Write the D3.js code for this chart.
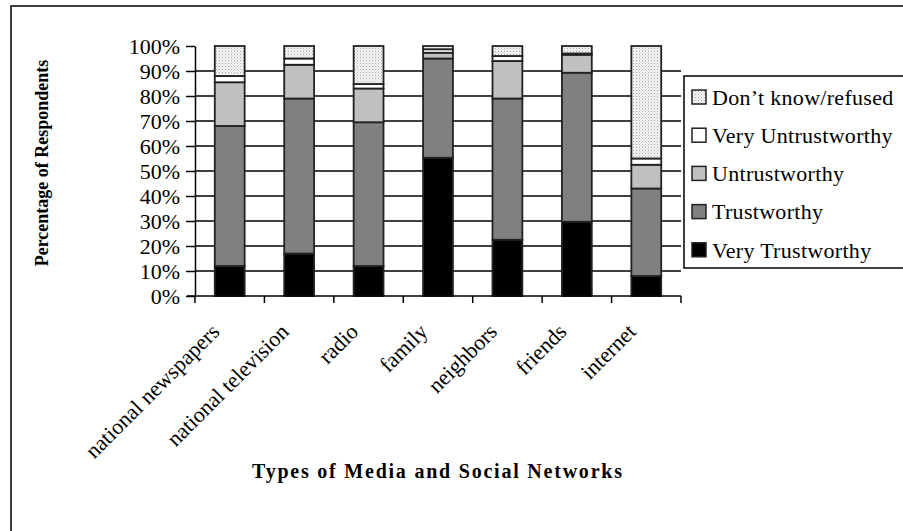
<!DOCTYPE html>
<html>
<head>
<meta charset="utf-8">
<script src="https://cdn.jsdelivr.net/npm/d3@7"></script>
<style>
  body { margin: 0; background: #fff; }
  svg text { font-family: "Liberation Serif", "Times New Roman", serif; fill: #000; }
  .tick-label { font-size: 22px; }
  .legend-label { font-size: 22px; letter-spacing: 0.3px; }
  .axis-title { font-size: 18px; font-weight: bold; }
</style>
</head>
<body>
<div id="chart"></div>
<script>
var categories = ["national newspapers", "national television", "radio", "family", "neighbors", "friends", "internet"];
var seriesNames = ["Very Trustworthy", "Trustworthy", "Untrustworthy", "Very Untrustworthy", "Don\u2019t know/refused"];
var veryTrustworthy   = [12,   17,   12,   55.3, 22.5, 29.7, 8];
var trustworthy       = [56,   62,   57.5, 39.7, 56.5, 59.6, 35];
var untrustworthy     = [17.5, 13.5, 13.5, 2.3,  15,   7.2,  9.5];
var veryUntrustworthy = [2.5,  2.5,  1.8,  1.4,  2,    0.5,  2.5];
var dontKnow          = [12,   5,    15.2, 1.3,  4,    3,    45];
var yTicks = [0, 10, 20, 30, 40, 50, 60, 70, 80, 90, 100];

var width = 903, height = 531;
var fills = ["#000000", "#808080", "#c0c0c0", "#ffffff", "url(#dots)"];

var rows = categories.map(function(c, i) {
  return {
    cat: c,
    "Very Trustworthy": veryTrustworthy[i],
    "Trustworthy": trustworthy[i],
    "Untrustworthy": untrustworthy[i],
    "Very Untrustworthy": veryUntrustworthy[i],
    "Don\u2019t know/refused": dontKnow[i]
  };
});
var stacked = d3.stack().keys(seriesNames)(rows);

var svg = d3.select("#chart").append("svg")
    .attr("width", width)
    .attr("height", height);

// dotted fill for the "don't know" segment
var pat = svg.append("defs").append("pattern")
    .attr("id", "dots")
    .attr("patternUnits", "userSpaceOnUse")
    .attr("width", 3).attr("height", 3);
pat.append("rect").attr("width", 3).attr("height", 3).attr("fill", "#f4f4f4");
pat.append("rect").attr("x", 0).attr("y", 0).attr("width", 1).attr("height", 1).attr("fill", "#a8a8a8");
pat.append("rect").attr("x", 1.5).attr("y", 1.5).attr("width", 1).attr("height", 1).attr("fill", "#c8c8c8");

// outer frame (runs off the right and bottom edge)
svg.append("rect")
    .attr("x", 11).attr("y", 6)
    .attr("width", 1000).attr("height", 600)
    .attr("fill", "none")
    .attr("stroke", "#000")
    .attr("stroke-width", 1.5);

var x = d3.scaleBand()
    .domain(categories)
    .range([195, 681])
    .paddingInner(0.57)
    .paddingOuter(0.285);

var y = d3.scaleLinear()
    .domain([0, 100])
    .range([296, 46]);

// gridlines
svg.append("g")
  .selectAll("line")
  .data(yTicks.filter(function(d) { return d > 0 && d < 100; }))
  .join("line")
    .attr("x1", 195).attr("x2", 681)
    .attr("y1", function(d) { return y(d); })
    .attr("y2", function(d) { return y(d); })
    .attr("stroke", "#000")
    .attr("stroke-width", 1.5);

// bars
svg.append("g")
  .selectAll("g")
  .data(stacked)
  .join("g")
    .attr("fill", function(d, i) { return fills[i]; })
  .selectAll("rect")
  .data(function(d) { return d; })
  .join("rect")
    .attr("x", function(d) { return x(d.data.cat); })
    .attr("y", function(d) { return y(d[1]); })
    .attr("width", x.bandwidth())
    .attr("height", function(d) { return y(d[0]) - y(d[1]); })
    .attr("stroke", "#222")
    .attr("stroke-width", 1.8);

// y axis
var yAxis = svg.append("g")
    .attr("transform", "translate(195,0)")
    .call(d3.axisLeft(y).tickValues(yTicks).tickSize(9).tickSizeOuter(0)
      .tickFormat(function(d) { return d + "%"; }));
yAxis.select(".domain").attr("stroke", "#000").attr("stroke-width", 1.5);
yAxis.selectAll(".tick line").attr("stroke", "#000").attr("stroke-width", 1.5);
yAxis.selectAll(".tick text")
    .attr("class", "tick-label")
    .attr("x", -15)
    .attr("dy", "0.35em")
    .attr("font-family", null)
    .attr("font-size", null);

// x axis: baseline plus ticks at category boundaries
var xAxis = svg.append("g");
xAxis.append("line")
    .attr("x1", 187).attr("x2", 681)
    .attr("y1", y(0)).attr("y2", y(0))
    .attr("stroke", "#000").attr("stroke-width", 1.5);
xAxis.selectAll(".xtick")
  .data(d3.range(categories.length + 1))
  .join("line")
    .attr("class", "xtick")
    .attr("x1", function(i) { return x.range()[0] + i * x.step(); })
    .attr("x2", function(i) { return x.range()[0] + i * x.step(); })
    .attr("y1", y(0)).attr("y2", y(0) + 7)
    .attr("stroke", "#000").attr("stroke-width", 1.5);
xAxis.selectAll(".xlabel")
  .data(categories)
  .join("text")
    .attr("class", "xlabel tick-label")
    .attr("text-anchor", "end")
    .attr("transform", function(d) {
      return "translate(" + (x(d) + x.bandwidth() / 2 - 9) + "," + 333 + ") rotate(-45)";
    })
    .text(function(d) { return d; });

// axis titles
svg.append("text")
    .attr("class", "axis-title")
    .attr("text-anchor", "middle")
    .attr("transform", "translate(48,163) rotate(-90)")
    .text("Percentage of Respondents");

svg.append("text")
    .attr("class", "axis-title")
    .attr("x", 252)
    .attr("y", 478)
    .attr("textLength", 370)
    .attr("lengthAdjust", "spacing")
    .style("font-size", "20px")
    .text("Types of Media and Social Networks");

// legend (top entry is the top of the stack)
var legend = svg.append("g");
legend.append("rect")
    .attr("x", 684).attr("y", 76)
    .attr("width", 240).attr("height", 192)
    .attr("fill", "#fff")
    .attr("stroke", "#000")
    .attr("stroke-width", 1.5);
var items = legend.selectAll(".item")
  .data(seriesNames.slice().reverse())
  .join("g")
    .attr("class", "item")
    .attr("transform", function(d, i) { return "translate(692," + (97 + i * 38.2) + ")"; });
items.append("rect")
    .attr("x", 0).attr("y", -7)
    .attr("width", 14).attr("height", 14)
    .attr("fill", function(d) { return fills[seriesNames.indexOf(d)]; })
    .attr("stroke", "#222")
    .attr("stroke-width", 1.5);
items.append("text")
    .attr("class", "legend-label")
    .attr("x", 20)
    .attr("dy", "0.35em")
    .text(function(d) { return d; });
</script>
</body>
</html>
